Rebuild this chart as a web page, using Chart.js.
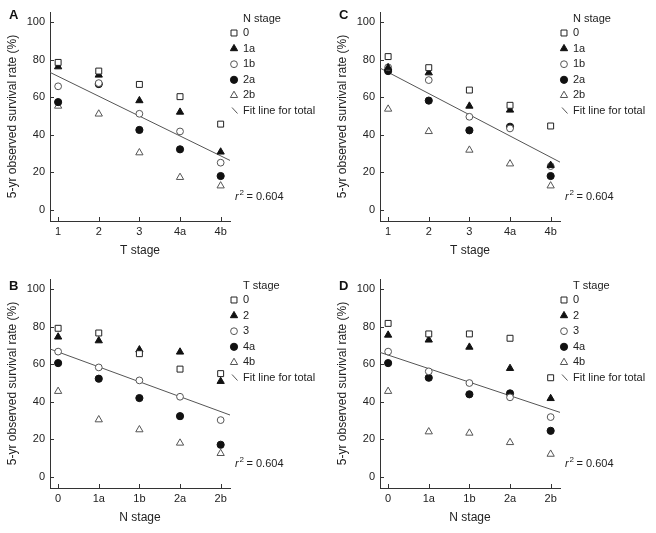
<!DOCTYPE html>
<html>
<head>
<meta charset="utf-8">
<script src="https://cdn.jsdelivr.net/npm/chart.js@4.4.0/dist/chart.umd.min.js"></script>
<style>
  body { margin: 0; background: #fff; }
  .panel { position: absolute; width: 326px; height: 262px; }
</style>
</head>
<body>
<div class="panel" style="left:0;top:0"><canvas id="chartA" width="326" height="262"></canvas></div>
<div class="panel" style="left:330px;top:0"><canvas id="chartC" width="326" height="262"></canvas></div>
<div class="panel" style="left:0;top:267px"><canvas id="chartB" width="326" height="262"></canvas></div>
<div class="panel" style="left:330px;top:267px"><canvas id="chartD" width="326" height="262"></canvas></div>
<script>
// categories
const tStages = ['1', '2', '3', '4a', '4b'];
const nStages = ['0', '1a', '1b', '2a', '2b'];
const tStageGroups = ['0', '2', '3', '4a', '4b']; // as printed in the B/D legends
const yTicks = [0, 20, 40, 60, 80, 100];

// A: survival by T stage, one series per N stage
const aN0  = [78.5, 73.9, 66.8, 60.3, 45.7];
const aN1a = [76.2, 71.8, 58.2, 52.1, 30.9];
const aN1b = [65.8, 67.5, 51.2, 41.8, 25.2];
const aN2a = [57.4, 67.0, 42.6, 32.3, 18.1];
const aN2b = [55.3, 51.1, 30.5, 17.4, 12.9];

// C: survival by T stage, one series per N stage
const cN0  = [81.6, 75.7, 63.8, 55.7, 44.7];
const cN1a = [75.7, 73.0, 55.3, 53.2, 23.8];
const cN1b = [75.9, 69.1, 49.6, 43.4, 23.4];
const cN2a = [73.9, 58.2, 42.4, 44.3, 18.1];
const cN2b = [53.7, 41.8, 31.9, 24.6, 12.9];

// B: survival by N stage, one series per T stage
const bT0  = [79.1, 76.6, 65.6, 57.4, 55.0];
const bT2  = [74.5, 72.5, 67.7, 66.5, 50.9];
const bT3  = [66.7, 58.3, 51.4, 42.7, 30.3];
const bT4a = [60.6, 52.3, 42.0, 32.4, 17.2];
const bT4b = [45.6, 30.5, 25.2, 18.1, 12.6];

// D: survival by N stage, one series per T stage
const dT0  = [81.7, 76.1, 76.1, 73.8, 52.8];
const dT2  = [75.5, 72.9, 69.1, 57.8, 41.8];
const dT3  = [66.7, 56.2, 50.0, 42.4, 31.9];
const dT4a = [60.6, 52.8, 44.0, 44.5, 24.6];
const dT4b = [45.6, 24.1, 23.4, 18.4, 12.2];

// fit lines for total: x at both ends of the axis, and y there
const fitX = [-0.2, 4.23];
const aFit = [73.2, 26.4];
const cFit = [75.5, 25.5];
const bFit = [68.1, 33.0];
const dFit = [66.3, 34.4];
const r2 = '0.604';

const FONT = '"Liberation Sans", Arial, sans-serif';
const markers = [
  { pointStyle: 'rect',     radius: 4.2, bg: '#fff', border: '#222' },
  { pointStyle: 'triangle', radius: 4.2, bg: '#111', border: '#111' },
  { pointStyle: 'circle',   radius: 3.4, bg: '#fff', border: '#555' },
  { pointStyle: 'circle',   radius: 3.6, bg: '#111', border: '#111' },
  { pointStyle: 'triangle', radius: 4.2, bg: '#fff', border: '#555' }
];

const decor = {
  id: 'decor',
  afterDraw(chart, args, o) {
    const ctx = chart.ctx, xs = chart.scales.x, ys = chart.scales.y;
    ctx.save();
    // inward tick marks
    ctx.strokeStyle = '#333';
    ctx.lineWidth = 1;
    ctx.beginPath();
    ys.ticks.forEach(t => {
      const py = Math.round(ys.getPixelForValue(t.value)) + 0.5;
      ctx.moveTo(xs.left, py); ctx.lineTo(xs.left + 4, py);
    });
    xs.ticks.forEach(t => {
      const px = Math.round(xs.getPixelForValue(t.value)) + 0.5;
      ctx.moveTo(px, ys.bottom); ctx.lineTo(px, ys.bottom - 4);
    });
    ctx.stroke();

    ctx.textBaseline = 'middle';
    ctx.textAlign = 'left';
    ctx.fillStyle = '#111';
    ctx.font = 'bold 13px ' + FONT;
    ctx.fillText(o.letter, 9, o.letterY);

    // legend
    ctx.font = '11px ' + FONT;
    ctx.fillStyle = '#222';
    ctx.fillText(o.legendTitle, 243, 18.5);
    o.legendLabels.forEach((lab, i) => {
      const m = markers[i], y = 33 + 15.6 * i;
      ctx.fillStyle = m.bg;
      ctx.strokeStyle = m.border;
      Chart.helpers.drawPoint(ctx, { pointStyle: m.pointStyle, radius: m.radius, rotation: 0, borderWidth: 1 }, 234, y);
      ctx.fillStyle = '#222';
      ctx.fillText(lab, 243, y);
    });
    const fy = 33 + 15.6 * 5;
    ctx.strokeStyle = '#555';
    ctx.beginPath();
    ctx.moveTo(232, fy - 3.5); ctx.lineTo(237.5, fy + 2.5);
    ctx.stroke();
    ctx.fillText('Fit line for total', 243, fy);

    // r squared
    ctx.font = 'italic 11px ' + FONT;
    ctx.fillText('r', 235, 197);
    ctx.font = '8px ' + FONT;
    ctx.fillText('2', 239.5, 193);
    ctx.font = '11px ' + FONT;
    ctx.fillText('= ' + r2, 246.5, 197);
    ctx.restore();
  }
};

function makePanel(id, cfg) {
  const datasets = cfg.series.map((vals, i) => ({
    label: cfg.legendLabels[i],
    data: vals.map((v, k) => ({ x: k, y: v })),
    pointStyle: markers[i].pointStyle,
    pointRadius: markers[i].radius,
    pointBackgroundColor: markers[i].bg,
    pointBorderColor: markers[i].border,
    pointBorderWidth: 1,
    order: 0
  }));
  datasets.push({
    type: 'line',
    label: 'Fit line for total',
    data: fitX.map((x, k) => ({ x: x, y: cfg.fit[k] })),
    borderColor: '#555',
    borderWidth: 1,
    pointRadius: 0,
    fill: false,
    order: 1
  });

  new Chart(document.getElementById(id), {
    type: 'scatter',
    data: { datasets },
    options: {
      responsive: false,
      animation: false,
      layout: { padding: { top: 12, right: 96, left: 0, bottom: 0 } },
      plugins: {
        legend: { display: false },
        tooltip: { enabled: false },
        decor: { letter: cfg.letter, letterY: cfg.letterY, legendTitle: cfg.legendTitle, legendLabels: cfg.legendLabels }
      },
      scales: {
        x: {
          type: 'linear',
          min: fitX[0],
          max: fitX[1],
          afterBuildTicks: s => { s.ticks = cfg.categories.map((c, i) => ({ value: i })); },
          afterFit: s => { s.height = 41; },
          grid: { display: false, drawTicks: false },
          border: { display: true, color: '#333', width: 1 },
          ticks: { padding: 4, color: '#222', font: { family: FONT, size: 11 }, callback: v => cfg.categories[v] },
          title: { display: true, text: cfg.xTitle, color: '#222', font: { family: FONT, size: 12 }, padding: { top: 0, bottom: 4.5 } }
        },
        y: {
          min: -5.8,
          max: 105.3,
          afterBuildTicks: s => { s.ticks = yTicks.map(v => ({ value: v })); },
          afterFit: s => { s.width = 50; },
          grid: { display: false, drawTicks: false },
          border: { display: true, color: '#333', width: 1 },
          ticks: { padding: 5, color: '#222', font: { family: FONT, size: 11 } },
          title: { display: true, text: '5-yr observed survival rate (%)', color: '#222', font: { family: FONT, size: 12 }, padding: { top: 5.8, bottom: 0 } }
        }
      }
    },
    plugins: [decor]
  });
}

makePanel('chartA', { letter: 'A', letterY: 15, categories: tStages, xTitle: 'T stage', legendTitle: 'N stage', legendLabels: nStages,
  series: [aN0, aN1a, aN1b, aN2a, aN2b], fit: aFit });
makePanel('chartC', { letter: 'C', letterY: 15, categories: tStages, xTitle: 'T stage', legendTitle: 'N stage', legendLabels: nStages,
  series: [cN0, cN1a, cN1b, cN2a, cN2b], fit: cFit });
makePanel('chartB', { letter: 'B', letterY: 19, categories: nStages, xTitle: 'N stage', legendTitle: 'T stage', legendLabels: tStageGroups,
  series: [bT0, bT2, bT3, bT4a, bT4b], fit: bFit });
makePanel('chartD', { letter: 'D', letterY: 19, categories: nStages, xTitle: 'N stage', legendTitle: 'T stage', legendLabels: tStageGroups,
  series: [dT0, dT2, dT3, dT4a, dT4b], fit: dFit });
</script>
</body>
</html>
